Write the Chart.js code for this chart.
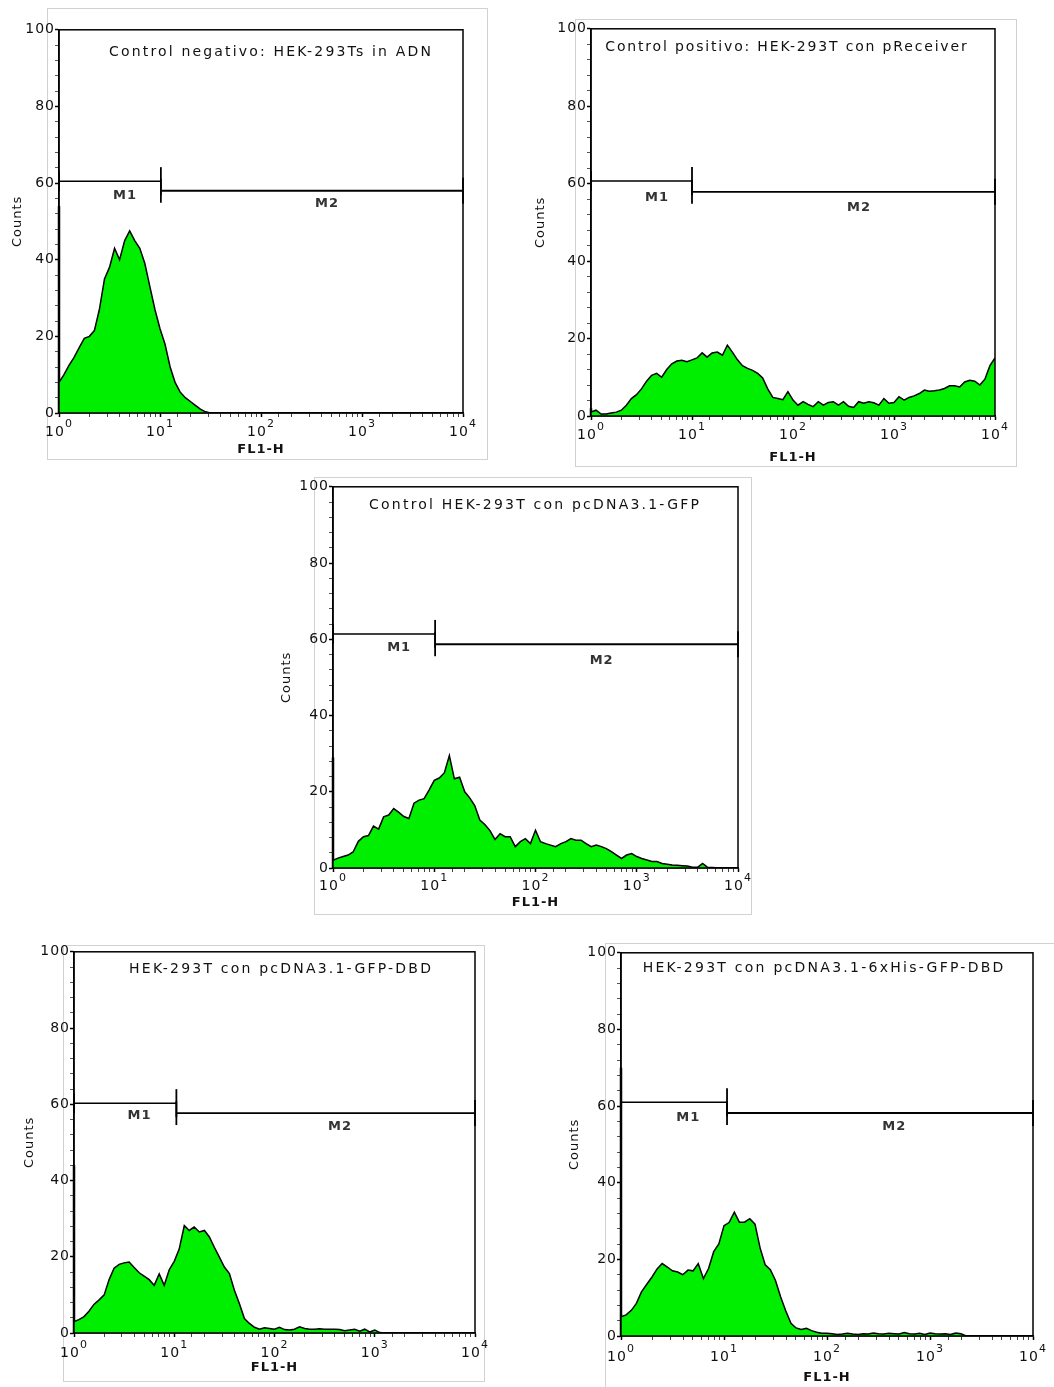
<!DOCTYPE html>
<html>
<head>
<meta charset="utf-8">
<script src="https://cdn.jsdelivr.net/npm/chart.js@4.4.1/dist/chart.umd.min.js"></script>
<style>
  body { margin: 0; background: #fff; width: 1054px; height: 1387px; position: relative; overflow: hidden; }
  .frame { position: absolute; border: 1px solid #d2d2d2; box-sizing: border-box; }
  canvas { position: absolute; }
</style>
</head>
<body>
<script>
// FL1-H channels, 20 per decade (10^0 .. 10^4)
const channels = [1, 1.12, 1.26, 1.41, 1.58, 1.78, 2, 2.24, 2.51, 2.82, 3.16, 3.55, 3.98, 4.47, 5.01, 5.62, 6.31, 7.08, 7.94, 8.91,
  10, 11.2, 12.6, 14.1, 15.8, 17.8, 20, 22.4, 25.1, 28.2, 31.6, 35.5, 39.8, 44.7, 50.1, 56.2, 63.1, 70.8, 79.4, 89.1,
  100, 112, 126, 141, 158, 178, 200, 224, 251, 282, 316, 355, 398, 447, 501, 562, 631, 708, 794, 891,
  1000, 1120, 1260, 1410, 1580, 1780, 2000, 2240, 2510, 2820, 3160, 3550, 3980, 4470, 5010, 5620, 6310, 7080, 7940, 8910,
  10000];

// counts per channel, one array per histogram
const countsNeg = [8, 10, 12.5, 14.5, 17, 19.5, 20, 21.5, 27, 35, 38, 43, 40, 45, 47.5, 45, 43, 39, 33, 27,
  22, 18, 12, 8, 5.5, 4, 3, 2, 1, 0.3, 0, 0, 0, 0, 0, 0, 0, 0, 0, 0,
  0, 0, 0, 0, 0, 0, 0, 0, 0, 0, 0, 0, 0, 0, 0, 0, 0, 0, 0, 0,
  0, 0, 0, 0, 0, 0, 0, 0, 0, 0, 0, 0, 0, 0, 0, 0, 0, 0, 0, 0,
  0];
const countsPos = [1, 1.5, 0.5, 0.5, 0.8, 1, 1.5, 2.8, 4.5, 5.5, 7, 9, 10.5, 11, 10, 12, 13.5, 14.2, 14.4, 14,
  14.5, 15, 16.3, 15.2, 16.3, 16.5, 15.7, 18.3, 16.5, 14.5, 13, 12.3, 11.8, 11, 9.8, 7, 4.8, 4.5, 4.2, 6.3,
  4.1, 2.8, 3.7, 3, 2.4, 3.7, 2.8, 3.5, 3.7, 2.8, 3.7, 2.5, 2.2, 3.7, 3.3, 3.7, 3.4, 2.8, 4.5, 3.3,
  3.5, 5, 4.1, 4.8, 5.2, 5.8, 6.7, 6.4, 6.5, 6.7, 7.1, 7.8, 7.8, 7.5, 8.8, 9.2, 9, 8, 9.5, 13,
  15];
const countsGFP = [2, 2.6, 3, 3.4, 4.2, 7, 8.2, 8.5, 11, 10.2, 13.4, 13.9, 15.6, 14.6, 13.5, 13, 17, 17.8, 18.2, 20.5,
  23, 23.6, 25, 29.5, 23.4, 23.8, 20, 18.4, 16.4, 12.6, 11.4, 9.8, 7.5, 9, 8.2, 8.2, 5.6, 6.9, 7.7, 6.4,
  9.9, 6.9, 6.4, 6, 5.6, 6.4, 6.9, 7.7, 7.3, 7.3, 6.4, 5.6, 6, 5.6, 5.1, 4.3, 3.4, 2.5, 3.4, 3.8,
  3, 2.5, 2.1, 1.7, 1.7, 1.2, 1, 0.8, 0.7, 0.6, 0.5, 0.2, 0.2, 1.2, 0.2, 0.1, 0, 0, 0, 0,
  0];
const countsGFPDBD = [3, 3.5, 4.3, 5.7, 7.5, 8.7, 10, 14, 17, 18, 18.4, 18.6, 17.2, 15.8, 14.9, 14, 12.5, 15.5, 12.5, 16.6,
  18.8, 22, 28.2, 26.9, 27.8, 26.5, 26.9, 25.2, 22.5, 19.9, 17.3, 15.6, 11.2, 7.7, 3.8, 2.5, 1.5, 1, 1.4, 1.2,
  1, 1.5, 0.9, 0.8, 1, 1.6, 1.2, 1, 1, 1.1, 1, 1, 1, 0.9, 0.6, 0.8, 1, 0.5, 1, 0.3,
  0.8, 0.1, 0, 0, 0, 0, 0, 0, 0, 0, 0, 0, 0, 0, 0, 0, 0, 0, 0, 0,
  0];
const countsHisDBD = [5, 5.5, 6.7, 8.5, 11.5, 13.5, 15.4, 17.5, 18.9, 18, 17, 16.7, 16, 17.2, 17, 18.9, 15, 17.6, 22, 24,
  28.8, 29.6, 32.3, 29.7, 29.7, 30.6, 29.2, 23, 18.6, 17.3, 14.5, 10.2, 6.5, 3.3, 2.1, 1.7, 2, 1.4, 1, 0.7,
  0.7, 0.6, 0.4, 0.5, 0.7, 0.5, 0.4, 0.6, 0.5, 0.8, 0.6, 0.5, 0.7, 0.6, 0.5, 0.9, 0.6, 0.5, 0.7, 0.4,
  0.8, 0.6, 0.5, 0.6, 0.4, 0.8, 0.6, 0, 0, 0, 0, 0, 0, 0, 0, 0, 0, 0, 0, 0,
  0];

const histograms = [countsNeg, countsPos, countsGFP, countsGFPDBD, countsHisDBD];
// first-channel pile-up on the axis
const spikes = [54, 2, 29, 44, 70];

// M1 / M2 gates
const m1Level = [60.5, 60.7, 61.4, 60.3, 61];
const m2Level = [58, 57.9, 58.7, 57.7, 58.2];
const gateSplit = [10.2, 10, 10.2, 10.5, 10.7];
const gateEnd = 10000;
const m1LabelAt = 4.5;
const m2LabelAt = 450;

const titles = [
  "Control negativo: HEK-293Ts in ADN",
  "Control positivo: HEK-293T con pReceiver",
  "Control HEK-293T con pcDNA3.1-GFP",
  "HEK-293T con pcDNA3.1-GFP-DBD",
  "HEK-293T con pcDNA3.1-6xHis-GFP-DBD"
];
// x tick labels: 10 with superscript exponent
const decades = [1, 10, 100, 1000, 10000];
const exponents = ["0", "1", "2", "3", "4"];

// page layout (pixels)
const layout = [
  { frame: [47, 8, 488, 460], plot: [59, 28, 463, 413], countsX: 18, titleX: 270, titleDy: 23, titleW: 324, tickDy: 19, fl1Dy: 36, m1Dy: 14, m2Dy: 13 },
  { frame: [575, 19, 1017, 467], plot: [591, 27, 995, 416], countsX: 541, titleX: 786, titleDy: 19, titleW: 363, tickDy: 19, fl1Dy: 41, m1Dy: 17, m2Dy: 16 },
  { frame: [314, 477, 752, 915], plot: [333, 485, 738, 868], countsX: 287, titleX: 534, titleDy: 19, titleW: 332, tickDy: 18, fl1Dy: 34, m1Dy: 14, m2Dy: 16 },
  { frame: [63, 945, 485, 1382], plot: [74, 950, 475, 1333], countsX: 30, titleX: 280, titleDy: 18, titleW: 304, tickDy: 20, fl1Dy: 34, m1Dy: 12, m2Dy: 14 },
  { frame: [605, 943, 1060, 1392], plot: [621, 951, 1033, 1336], countsX: 575, titleX: 823, titleDy: 16, titleW: 363, tickDy: 21, fl1Dy: 41, m1Dy: 15, m2Dy: 14 }
];

const FONT = '"DejaVu Sans", sans-serif';
const GREEN = '#00ee00';

// box, title, x tick labels and gate labels
const overlay = {
  id: 'overlay',
  beforeDraw(chart) {
    chart.ctx.letterSpacing = '1px';
  },
  afterDatasetsDraw(chart, args, opts) {
    const { ctx, chartArea: a, scales: { x, y } } = chart;
    ctx.save();
    ctx.strokeStyle = '#000';
    ctx.lineWidth = 1.5;
    ctx.strokeRect(a.left, a.top, a.right - a.left, a.bottom - a.top);

    ctx.fillStyle = '#111';
    ctx.textAlign = 'center';
    ctx.textBaseline = 'middle';
    ctx.font = '14px ' + FONT;
    ctx.letterSpacing = '0px';
    const w = ctx.measureText(opts.title).width;
    const sp = Math.max(0, (opts.titleW - w) / opts.title.length);
    ctx.letterSpacing = sp.toFixed(2) + 'px';
    ctx.fillText(opts.title, opts.titleX + sp / 2, a.top + opts.titleDy);

    // decade labels
    ctx.letterSpacing = '1px';
    ctx.textAlign = 'left';
    decades.forEach((d, k) => {
      const px = x.getPixelForValue(d);
      ctx.font = '14px ' + FONT;
      const bw = ctx.measureText('10').width;
      ctx.font = '11px ' + FONT;
      const ew = ctx.measureText(exponents[k]).width;
      const x0 = px - (bw + ew) / 2;
      ctx.font = '14px ' + FONT;
      ctx.fillText('10', x0, a.bottom + opts.tickDy);
      ctx.font = '11px ' + FONT;
      ctx.fillText(exponents[k], x0 + bw, a.bottom + opts.tickDy - 8);
    });

    ctx.textAlign = 'center';
    ctx.font = 'bold 13px ' + FONT;
    ctx.fillStyle = '#333';
    ctx.fillText('M1', x.getPixelForValue(m1LabelAt), y.getPixelForValue(opts.m1) + opts.m1Dy);
    ctx.fillText('M2', x.getPixelForValue(m2LabelAt), y.getPixelForValue(opts.m2) + opts.m2Dy);
    ctx.restore();
  },
  afterDraw(chart) {
    chart.ctx.letterSpacing = '0px';
  }
};

function makePanel(i) {
  const L = layout[i];
  const [pl, pt, pr, pb] = L.plot;
  const [fl, ft, fr, fb] = L.frame;

  const frame = document.createElement('div');
  frame.className = 'frame';
  frame.style.left = fl + 'px';
  frame.style.top = ft + 'px';
  frame.style.width = (fr - fl) + 'px';
  frame.style.height = (fb - ft) + 'px';
  document.body.appendChild(frame);

  const canvasLeft = L.countsX - 11;
  const yW = pl - canvasLeft;
  const padTop = 14, padRight = 18;
  const xH = L.fl1Dy + 12;

  const canvas = document.createElement('canvas');
  canvas.width = yW + (pr - pl) + padRight;
  canvas.height = padTop + (pb - pt) + xH;
  canvas.style.left = canvasLeft + 'px';
  canvas.style.top = (pt - padTop) + 'px';
  document.body.appendChild(canvas);

  const hist = histograms[i];

  new Chart(canvas, {
    type: 'line',
    data: {
      datasets: [
        {
          data: channels.map((c, k) => ({ x: c, y: hist[k] })),
          borderColor: '#000',
          borderWidth: 1.5,
          backgroundColor: GREEN,
          fill: 'origin',
          pointRadius: 0,
          tension: 0
        },
        {
          data: [{ x: 1, y: 0 }, { x: 1, y: spikes[i] }],
          borderColor: '#000',
          borderWidth: 2.5,
          pointRadius: 0,
          fill: false,
          clip: false
        },
        {
          data: [{ x: 1, y: m1Level[i] }, { x: gateSplit[i], y: m1Level[i] }],
          borderColor: '#000',
          borderWidth: 1.5,
          pointStyle: 'line',
          pointRotation: 90,
          pointRadius: [10, 14],
          pointBorderColor: '#000',
          pointBorderWidth: 1.8,
          fill: false,
          clip: false
        },
        {
          data: [{ x: gateSplit[i], y: m2Level[i] }, { x: gateEnd, y: m2Level[i] }],
          borderColor: '#000',
          borderWidth: 1.8,
          pointStyle: 'line',
          pointRotation: 90,
          pointRadius: [12, 13],
          pointBorderColor: '#000',
          pointBorderWidth: 1.8,
          fill: false,
          clip: false
        }
      ]
    },
    options: {
      responsive: false,
      animation: false,
      devicePixelRatio: 1,
      events: [],
      layout: { padding: { top: padTop, right: padRight, left: 0, bottom: 0 } },
      plugins: {
        legend: { display: false },
        tooltip: { enabled: false },
        overlay: {
          title: titles[i], titleX: L.titleX - canvasLeft, titleDy: L.titleDy, titleW: L.titleW,
          tickDy: L.tickDy, m1: m1Level[i], m2: m2Level[i], m1Dy: L.m1Dy, m2Dy: L.m2Dy
        }
      },
      scales: {
        x: {
          type: 'logarithmic',
          min: 1,
          max: 10000,
          border: { color: '#000', width: 1.5 },
          grid: {
            drawOnChartArea: false,
            drawTicks: true,
            tickLength: 4,
            tickColor: (c) => (c.tick && decades.includes(c.tick.value) ? '#000' : '#444'),
            tickWidth: (c) => (c.tick && decades.includes(c.tick.value) ? 1.5 : 1)
          },
          ticks: {
            autoSkip: false,
            maxRotation: 0,
            callback: () => ''
          },
          title: {
            display: true,
            text: 'FL1-H',
            color: '#111',
            font: { family: FONT, size: 13, weight: 'bold' },
            padding: { top: 0, bottom: 4 }
          },
          afterFit: (s) => { s.height = xH; s.paddingLeft = 0; s.paddingRight = 0; }
        },
        y: {
          min: 0,
          max: 100,
          border: { color: '#000', width: 1.5 },
          grid: {
            drawOnChartArea: false,
            drawTicks: true,
            tickLength: 4,
            tickColor: (c) => (c.tick && c.tick.value % 20 === 0 ? '#000' : '#555'),
            tickWidth: (c) => (c.tick && c.tick.value % 20 === 0 ? 1.5 : 1)
          },
          ticks: {
            stepSize: 4,
            autoSkip: false,
            padding: 0,
            color: '#111',
            font: { family: FONT, size: 14 },
            callback: (v) => (v % 20 === 0 ? String(v) : '')
          },
          title: {
            display: true,
            text: 'Counts',
            color: '#111',
            font: { family: FONT, size: 13 },
            padding: { top: 3, bottom: 0 }
          },
          afterFit: (s) => { s.width = yW; s.paddingTop = 0; s.paddingBottom = 0; }
        }
      }
    },
    plugins: [overlay]
  });
}

for (let i = 0; i < layout.length; i++) {
  makePanel(i);
}
</script>
</body>
</html>
